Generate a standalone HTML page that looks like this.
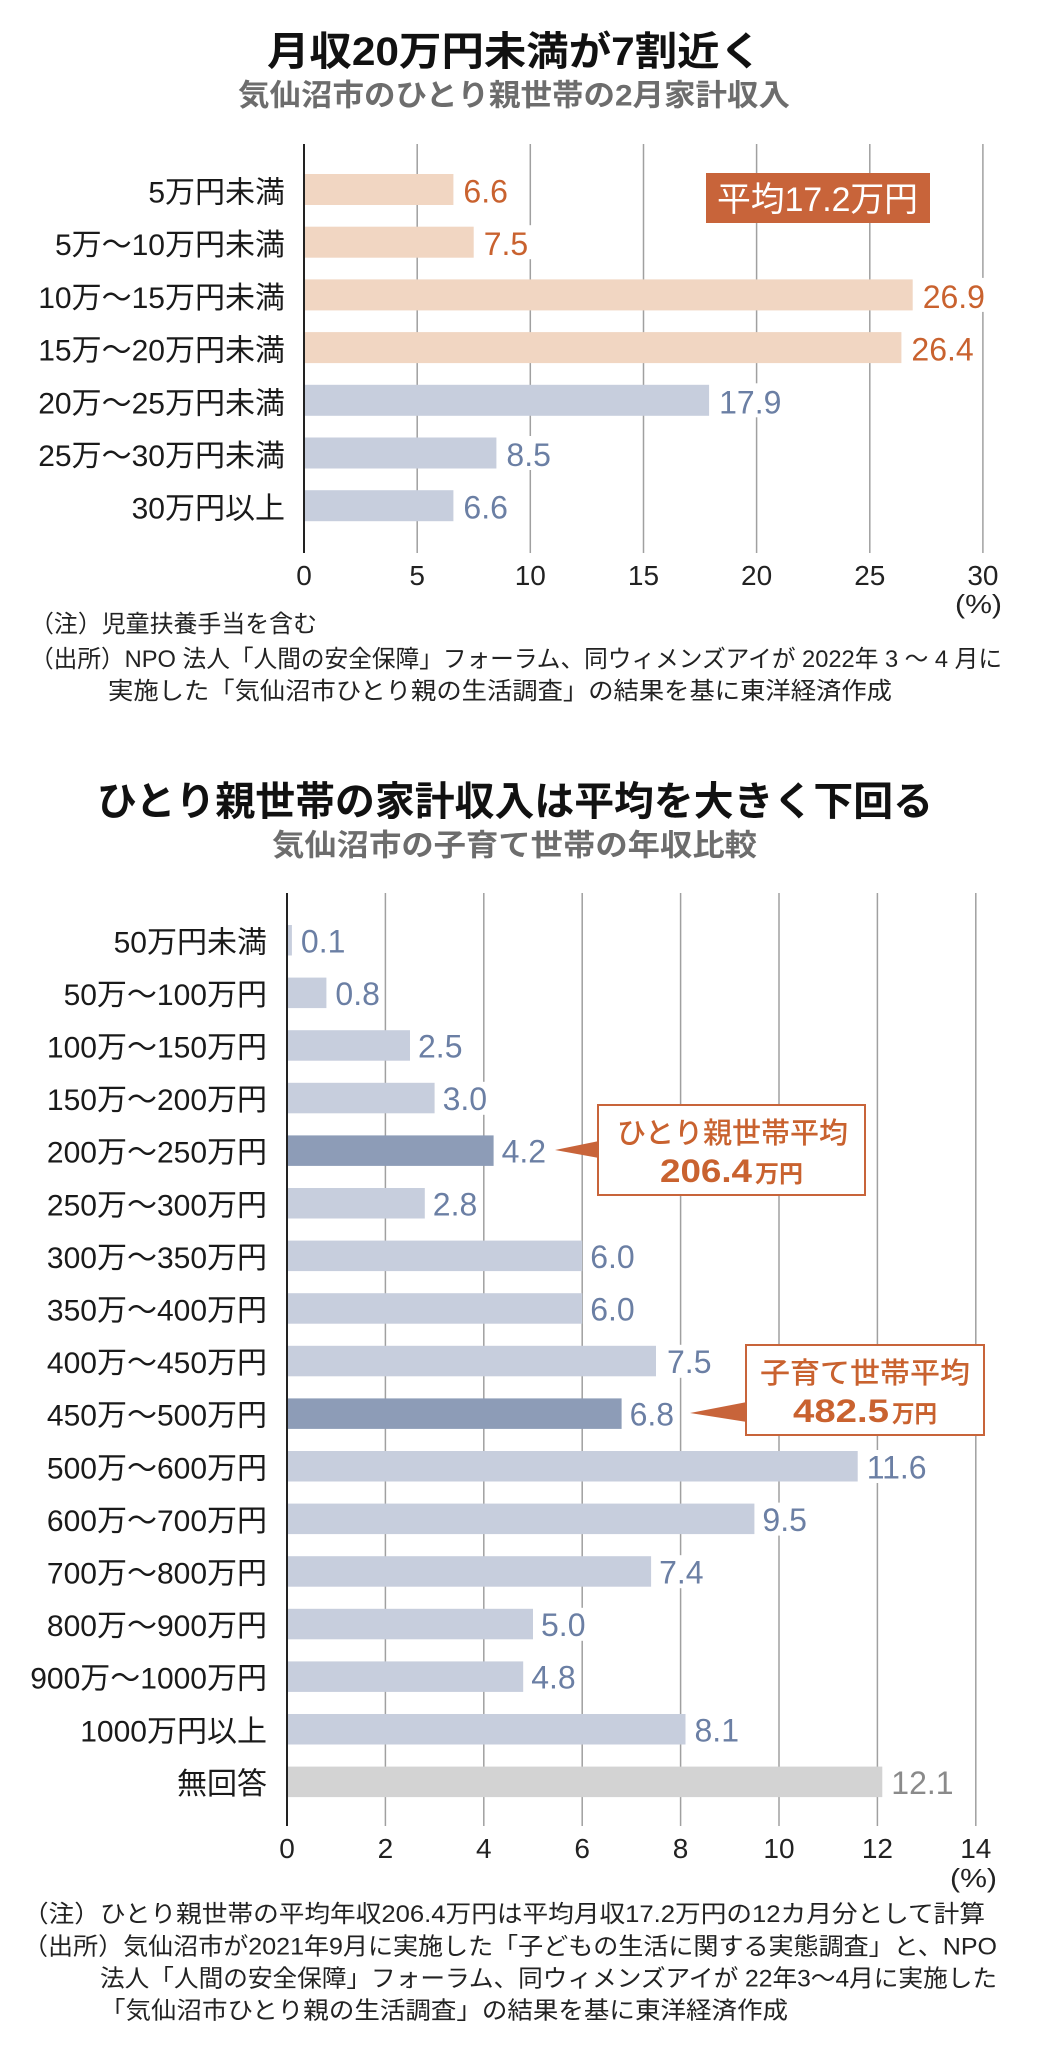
<!DOCTYPE html>
<html><head><meta charset="utf-8">
<style>
html,body{margin:0;padding:0;background:#fff;}
svg{display:block;}
text{font-family:"Liberation Sans","Noto Sans CJK JP",sans-serif;}
.t{font-weight:bold;fill:#111;font-size:40px;}
.st{font-weight:bold;fill:#6d6d6d;font-size:30px;}
.lb{font-size:30px;fill:#1a1a1a;text-anchor:end;}
.tk{font-size:28px;fill:#222;text-anchor:middle;}
.nt{font-size:24px;fill:#222;}
.vo{font-size:32px;fill:#c9622f;}
.vb{font-size:32px;fill:#6b7fa4;}
.vg{font-size:32px;fill:#8a8a8a;}
.g{stroke:#a0a0a0;stroke-width:1.5;}
.ax{stroke:#222;stroke-width:2;}
</style></head>
<body>
<svg width="1040" height="2056" viewBox="0 0 1040 2056" xmlns="http://www.w3.org/2000/svg">
<rect x="0" y="0" width="1040" height="2056" fill="#fff"/>

<!-- ===== Chart 1 ===== -->
<text class="t" x="267" y="65" textLength="495" lengthAdjust="spacingAndGlyphs">月収20万円未満が7割近く</text>
<text class="st" x="238" y="105.5" textLength="552" lengthAdjust="spacingAndGlyphs">気仙沼市のひとり親世帯の2月家計収入</text>

<g class="g">
<line x1="417.2" y1="144" x2="417.2" y2="553"/>
<line x1="530.3" y1="144" x2="530.3" y2="553"/>
<line x1="643.5" y1="144" x2="643.5" y2="553"/>
<line x1="756.6" y1="144" x2="756.6" y2="553"/>
<line x1="869.8" y1="144" x2="869.8" y2="553"/>
<line x1="982.9" y1="144" x2="982.9" y2="553"/>
</g>

<!-- average box -->
<rect x="706" y="173" width="224" height="50" fill="#c8643a"/>
<text x="717" y="211" font-size="34" fill="#fff" textLength="201" lengthAdjust="spacingAndGlyphs">平均17.2万円</text>

<!-- bars -->
<rect x="304" y="174" width="149.4" height="31" fill="#f1d6c2"/>
<rect x="304" y="226.7" width="169.7" height="31" fill="#f1d6c2"/>
<rect x="304" y="279.4" width="608.7" height="31" fill="#f1d6c2"/>
<rect x="304" y="332.1" width="597.4" height="31" fill="#f1d6c2"/>
<rect x="304" y="384.8" width="405.1" height="31" fill="#c7cedd"/>
<rect x="304" y="437.5" width="192.4" height="31" fill="#c7cedd"/>
<rect x="304" y="490.2" width="149.4" height="31" fill="#c7cedd"/>

<!-- value label backgrounds -->
<g fill="#fff">
<rect x="458" y="172.5" width="55" height="34"/>
<rect x="478" y="225.2" width="55" height="34"/>
<rect x="917" y="277.9" width="73" height="34"/>
<rect x="906" y="330.6" width="73" height="34"/>
<rect x="714" y="383.3" width="73" height="34"/>
<rect x="501" y="436" width="55" height="34"/>
<rect x="458" y="488.7" width="55" height="34"/>
</g>
<text class="vo" x="463.4" y="202.5">6.6</text>
<text class="vo" x="483.7" y="255.2">7.5</text>
<text class="vo" x="922.7" y="307.9">26.9</text>
<text class="vo" x="911.4" y="360.6">26.4</text>
<text class="vb" x="719.1" y="413.3">17.9</text>
<text class="vb" x="506.4" y="466">8.5</text>
<text class="vb" x="463.4" y="518.7">6.6</text>

<line class="ax" x1="304" y1="144" x2="304" y2="553"/>

<text class="lb" x="285" y="202.5">5万円未満</text>
<text class="lb" x="285" y="255.2">5万～10万円未満</text>
<text class="lb" x="285" y="307.9">10万～15万円未満</text>
<text class="lb" x="285" y="360.6">15万～20万円未満</text>
<text class="lb" x="285" y="413.3">20万～25万円未満</text>
<text class="lb" x="285" y="466">25万～30万円未満</text>
<text class="lb" x="285" y="518.7">30万円以上</text>

<text class="tk" x="304" y="585">0</text>
<text class="tk" x="417.2" y="585">5</text>
<text class="tk" x="530.3" y="585">10</text>
<text class="tk" x="643.5" y="585">15</text>
<text class="tk" x="756.6" y="585">20</text>
<text class="tk" x="869.8" y="585">25</text>
<text class="tk" x="982.9" y="585">30</text>
<text x="955" y="613" font-size="26" fill="#222" textLength="47" lengthAdjust="spacingAndGlyphs">(%)</text>

<text class="nt" x="30" y="632" textLength="287" lengthAdjust="spacingAndGlyphs">（注）児童扶養手当を含む</text>
<text class="nt" x="30" y="667" textLength="972" lengthAdjust="spacingAndGlyphs">（出所）NPO 法人「人間の安全保障」フォーラム、同ウィメンズアイが 2022年 3 ～ 4 月に</text>
<text class="nt" x="108" y="699" textLength="784" lengthAdjust="spacingAndGlyphs">実施した「気仙沼市ひとり親の生活調査」の結果を基に東洋経済作成</text>

<!-- ===== Chart 2 ===== -->
<text class="t" x="97" y="815" textLength="836" lengthAdjust="spacingAndGlyphs">ひとり親世帯の家計収入は平均を大きく下回る</text>
<text class="st" x="272" y="855.5" textLength="485" lengthAdjust="spacingAndGlyphs">気仙沼市の子育て世帯の年収比較</text>

<g class="g">
<line x1="385.4" y1="893" x2="385.4" y2="1826"/>
<line x1="483.8" y1="893" x2="483.8" y2="1826"/>
<line x1="582.2" y1="893" x2="582.2" y2="1826"/>
<line x1="680.6" y1="893" x2="680.6" y2="1826"/>
<line x1="779" y1="893" x2="779" y2="1826"/>
<line x1="877.4" y1="893" x2="877.4" y2="1826"/>
<line x1="975.8" y1="893" x2="975.8" y2="1826"/>
</g>

<!-- bars -->
<rect x="287" y="925" width="4.9" height="30.5" fill="#c7cedd"/>
<rect x="287" y="977.6" width="39.4" height="30.5" fill="#c7cedd"/>
<rect x="287" y="1030.2" width="123" height="30.5" fill="#c7cedd"/>
<rect x="287" y="1082.8" width="147.6" height="30.5" fill="#c7cedd"/>
<rect x="287" y="1135.4" width="206.6" height="30.5" fill="#8d9cb7"/>
<rect x="287" y="1188" width="137.8" height="30.5" fill="#c7cedd"/>
<rect x="287" y="1240.6" width="295.2" height="30.5" fill="#c7cedd"/>
<rect x="287" y="1293.2" width="295.2" height="30.5" fill="#c7cedd"/>
<rect x="287" y="1345.8" width="369" height="30.5" fill="#c7cedd"/>
<rect x="287" y="1398.4" width="334.6" height="30.5" fill="#8d9cb7"/>
<rect x="287" y="1451" width="570.7" height="30.5" fill="#c7cedd"/>
<rect x="287" y="1503.6" width="467.4" height="30.5" fill="#c7cedd"/>
<rect x="287" y="1556.2" width="364.1" height="30.5" fill="#c7cedd"/>
<rect x="287" y="1608.8" width="246" height="30.5" fill="#c7cedd"/>
<rect x="287" y="1661.4" width="236.2" height="30.5" fill="#c7cedd"/>
<rect x="287" y="1714" width="398.5" height="30.5" fill="#c7cedd"/>
<rect x="287" y="1766.6" width="595.3" height="30.5" fill="#d3d3d3"/>

<!-- value label backgrounds -->
<g fill="#fff">
<rect x="296" y="924" width="53" height="33"/>
<rect x="331" y="976.6" width="53" height="33"/>
<rect x="414" y="1029.2" width="53" height="33"/>
<rect x="439" y="1081.8" width="53" height="33"/>
<rect x="498" y="1134.4" width="53" height="33"/>
<rect x="429" y="1187" width="53" height="33"/>
<rect x="586" y="1239.6" width="53" height="33"/>
<rect x="586" y="1292.2" width="53" height="33"/>
<rect x="663" y="1344.8" width="53" height="33"/>
<rect x="626" y="1397.4" width="53" height="33"/>
<rect x="862" y="1450" width="71" height="33"/>
<rect x="759" y="1502.6" width="53" height="33"/>
<rect x="655" y="1555.2" width="53" height="33"/>
<rect x="537" y="1607.8" width="53" height="33"/>
<rect x="527" y="1660.4" width="53" height="33"/>
<rect x="690" y="1713" width="53" height="33"/>
<rect x="887" y="1765.6" width="71" height="33"/>
</g>
<text class="vb" x="300.9" y="952.25">0.1</text>
<text class="vb" x="335.4" y="1004.85">0.8</text>
<text class="vb" x="418" y="1057.45">2.5</text>
<text class="vb" x="442.6" y="1110.05">3.0</text>
<text class="vb" x="501.6" y="1162.65">4.2</text>
<text class="vb" x="432.8" y="1215.25">2.8</text>
<text class="vb" x="590.2" y="1267.85">6.0</text>
<text class="vb" x="590.2" y="1320.45">6.0</text>
<text class="vb" x="667" y="1373.05">7.5</text>
<text class="vb" x="629.6" y="1425.65">6.8</text>
<text class="vb" x="866.7" y="1478.25">11.6</text>
<text class="vb" x="762.4" y="1530.85">9.5</text>
<text class="vb" x="659.1" y="1583.45">7.4</text>
<text class="vb" x="541" y="1636.05">5.0</text>
<text class="vb" x="531.2" y="1688.65">4.8</text>
<text class="vb" x="694.5" y="1741.25">8.1</text>
<text class="vg" x="891.3" y="1793.85">12.1</text>

<line class="ax" x1="287" y1="893" x2="287" y2="1826"/>

<text class="lb" x="267" y="952.25">50万円未満</text>
<text class="lb" x="267" y="1004.85">50万～100万円</text>
<text class="lb" x="267" y="1057.45">100万～150万円</text>
<text class="lb" x="267" y="1110.05">150万～200万円</text>
<text class="lb" x="267" y="1162.65">200万～250万円</text>
<text class="lb" x="267" y="1215.25">250万～300万円</text>
<text class="lb" x="267" y="1267.85">300万～350万円</text>
<text class="lb" x="267" y="1320.45">350万～400万円</text>
<text class="lb" x="267" y="1373.05">400万～450万円</text>
<text class="lb" x="267" y="1425.65">450万～500万円</text>
<text class="lb" x="267" y="1478.25">500万～600万円</text>
<text class="lb" x="267" y="1530.85">600万～700万円</text>
<text class="lb" x="267" y="1583.45">700万～800万円</text>
<text class="lb" x="267" y="1636.05">800万～900万円</text>
<text class="lb" x="267" y="1688.65">900万～1000万円</text>
<text class="lb" x="267" y="1741.25">1000万円以上</text>
<text class="lb" x="267" y="1793.85">無回答</text>

<!-- callout 1 -->
<polygon points="555,1150 599,1141 599,1158" fill="#c8643a"/>
<rect x="598" y="1105" width="267" height="90" fill="#fff" stroke="#c8643a" stroke-width="2"/>
<text x="617" y="1143" font-size="29" font-weight="500" fill="#c9622f" textLength="231" lengthAdjust="spacingAndGlyphs">ひとり親世帯平均</text>
<text x="660" y="1182" font-size="32" font-weight="bold" fill="#c9622f" textLength="92" lengthAdjust="spacingAndGlyphs">206.4</text>
<text x="755" y="1182" font-size="24" font-weight="bold" fill="#c9622f" textLength="48" lengthAdjust="spacingAndGlyphs">万円</text>

<!-- callout 2 -->
<polygon points="690,1413 747,1402 747,1422" fill="#c8643a"/>
<rect x="746" y="1345" width="238" height="90" fill="#fff" stroke="#c8643a" stroke-width="2"/>
<text x="760" y="1383" font-size="29" font-weight="500" fill="#c9622f" textLength="210" lengthAdjust="spacingAndGlyphs">子育て世帯平均</text>
<text x="793" y="1422" font-size="32" font-weight="bold" fill="#c9622f" textLength="96" lengthAdjust="spacingAndGlyphs">482.5</text>
<text x="892" y="1422" font-size="24" font-weight="bold" fill="#c9622f" textLength="45" lengthAdjust="spacingAndGlyphs">万円</text>

<text class="tk" x="287" y="1858">0</text>
<text class="tk" x="385.4" y="1858">2</text>
<text class="tk" x="483.8" y="1858">4</text>
<text class="tk" x="582.2" y="1858">6</text>
<text class="tk" x="680.6" y="1858">8</text>
<text class="tk" x="779" y="1858">10</text>
<text class="tk" x="877.4" y="1858">12</text>
<text class="tk" x="975.8" y="1858">14</text>
<text x="950" y="1887" font-size="26" fill="#222" textLength="47" lengthAdjust="spacingAndGlyphs">(%)</text>

<text class="nt" x="23" y="1922" font-size="25" textLength="962" lengthAdjust="spacingAndGlyphs">（注）ひとり親世帯の平均年収206.4万円は平均月収17.2万円の12カ月分として計算</text>
<text class="nt" x="23" y="1954.5" font-size="25" textLength="974" lengthAdjust="spacingAndGlyphs">（出所）気仙沼市が2021年9月に実施した「子どもの生活に関する実態調査」と、NPO</text>
<text class="nt" x="100" y="1986.5" font-size="25" textLength="897" lengthAdjust="spacingAndGlyphs">法人「人間の安全保障」フォーラム、同ウィメンズアイが 22年3～4月に実施した</text>
<text class="nt" x="100" y="2018.5" font-size="25" textLength="688" lengthAdjust="spacingAndGlyphs">「気仙沼市ひとり親の生活調査」の結果を基に東洋経済作成</text>
</svg>
</body></html>
